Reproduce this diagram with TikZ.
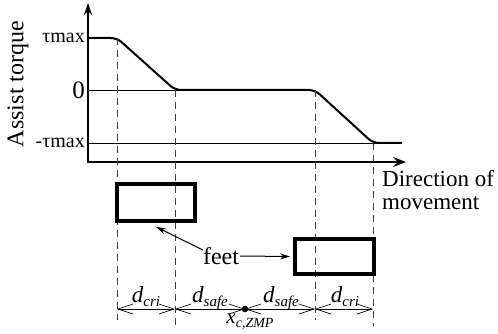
\documentclass[tikz,border=0pt]{standalone}
\usepackage{fontspec}
\setmainfont{Liberation Serif}
\usetikzlibrary{arrows.meta}
% italic symbol with a smaller italic subscript
\newcommand{\symsub}[3][15]{\textit{#2}\raisebox{-4.5pt}{\fontsize{#1}{#1}\selectfont\itshape #3}}
\begin{document}
\begin{tikzpicture}[x=1pt,y=-1pt,
  every node/.style={font=\fontsize{24}{21}\selectfont, inner sep=1pt},
  axis/.style={line width=1.8pt},
  level/.style={line width=0.8pt},
  torque/.style={line width=2pt, rounded corners=6pt, line join=round},
  guide/.style={line width=0.8pt, dash pattern=on 7pt off 5pt, black!75},
  foot/.style={draw, line width=3.8pt, inner sep=0pt},
  dim/.style={line width=0.7pt, {Straight Barb[length=15pt,width=10pt]}-{Straight Barb[length=15pt,width=10pt]}},
  pointer/.style={line width=1pt, -{Stealth[length=10pt,width=6pt]}},
  ticklabel/.style={anchor=east, font=\fontsize{20}{20}\selectfont},
  dimlabel/.style={anchor=base, font=\fontsize{23}{23}\selectfont}
]
\useasboundingbox (0,0) rectangle (498,334);

% axes
\coordinate (O) at (88,162);
\draw[axis, {Stealth[length=12pt,width=8pt]}-{Stealth[length=13pt,width=10pt,inset=5pt]}]
  (88,3) -- (O) -- (406,162);

% reference levels
\draw[level] (88,90) -- (315,90);
\draw[level] (88,143) -- (402,143);

\node[ticklabel] (tmax) at (86,38) {τmax};
\node[anchor=east, font=\fontsize{25}{25}\selectfont] (zero) at (86,90) {0};
\node[ticklabel] (tmin) at (86,143) {-τmax};
\node[rotate=90] (ylabel) at (18,84) {Assist torque};

% corner points of the torque profile
\coordinate (c1) at (117,38);
\coordinate (c2) at (175,90);
\coordinate (c3) at (315,90);
\coordinate (c4) at (373,143);

\draw[torque] (88,38) -- (c1) -- (c2) -- (c3) -- (c4) -- (402,143);

% guide lines down to the dimension row
\draw[guide] (c1) -- (117,320);
\draw[guide] (c2) -- (175,326);
\draw[guide] (c3) -- (315,320);
\draw[guide] (c4) -- (373,326);

\node[anchor=north west, align=left, inner sep=0pt, font=\fontsize{23}{23}\selectfont]
  (dir) at (382,170) {Direction of\\movement};

% feet
\node[foot, minimum width=78pt, minimum height=37pt] (lfoot) at (156,202.5) {};
\node[foot, minimum width=79pt, minimum height=35pt] (rfoot) at (334.5,256.5) {};

\node (feet) at (221,256) {feet};
\draw[pointer] ([shift={(1pt,6pt)}]feet.west) -- ([xshift=41pt,yshift=-4pt]lfoot.south west);
\draw[pointer] (feet.east) -- ([xshift=-3pt]rfoot.west);

% dimension row
\coordinate (d1) at (117,309);
\coordinate (d2) at (175,309);
\coordinate (zmp) at (245,309);
\coordinate (d3) at (315,309);
\coordinate (d4) at (373,309);

\draw[dim] (d1) -- (d2);
\draw[dim] (d2) -- (zmp);
\draw[dim] (zmp) -- (d3);
\draw[dim] (d3) -- (d4);
\fill (zmp) circle (3.3pt);

\node[dimlabel] (l1) at (146,302) {\symsub{d}{cri}};
\node[dimlabel] (l2) at (210,302) {\symsub{d}{safe}};
\node[dimlabel] (l3) at (281,302) {\symsub{d}{safe}};
\node[dimlabel] (l4) at (345,302) {\symsub{d}{cri}};
\node[dimlabel, font=\fontsize{21}{21}\selectfont] (lz) at (250,323) {\symsub[14]{x}{c,ZMP}};
\end{tikzpicture}
\end{document}
